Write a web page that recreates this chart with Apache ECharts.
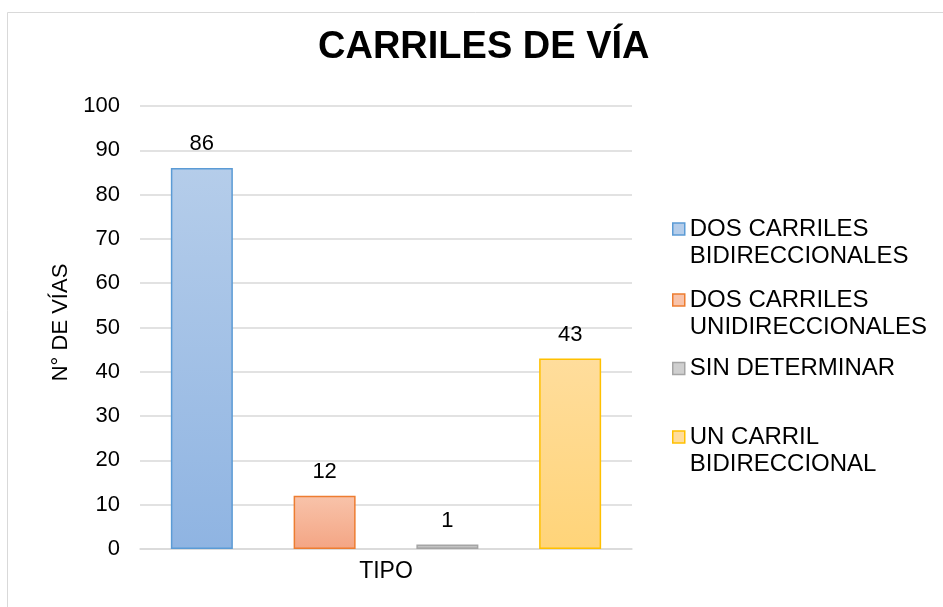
<!DOCTYPE html>
<html>
<head>
<meta charset="utf-8">
<script src="https://cdn.jsdelivr.net/npm/echarts@6/dist/echarts.min.js"></script>
<style>
  html, body { margin: 0; padding: 0; background: #fff; }
  #chart { width: 943px; height: 607px; }
</style>
</head>
<body>
<div id="chart"></div>
<script>
// datos del gráfico
var categories = ['TIPO']
var seriesNames = [
  'DOS CARRILES\nBIDIRECCIONALES',
  'DOS CARRILES\nUNIDIRECCIONALES',
  'SIN DETERMINAR',
  'UN CARRIL\nBIDIRECCIONAL'
]
var seriesValues = [86, 12, 1, 43]
var yTicks = [0, 100, 10] // min, max, intervalo

// colores: [arriba, abajo, borde]
var palette = [
  ['#b5cdea', '#8fb4e2', '#5b9bd5'],
  ['#f8c3aa', '#f4a584', '#ed7d31'],
  ['#cfcfcf', '#b4b4b4', '#a5a5a5'],
  ['#ffdd9c', '#ffd479', '#ffc000']
]
// posición de cada leyenda (una por serie)
var legendTops = [188.5, 259.5, 355, 396.5]

var chart = echarts.init(document.getElementById('chart'))

var series = seriesNames.map(function(name, i) {
  return {
    name: name,
    type: 'bar',
    data: [seriesValues[i]],
    barWidth: 62,
    barGap: '98%',
    itemStyle: {
      color: new echarts.graphic.LinearGradient(0, 0, 0, 1, [
        { offset: 0, color: palette[i][0] },
        { offset: 1, color: palette[i][1] }
      ]),
      borderColor: palette[i][2],
      borderWidth: 1.5
    },
    label: {
      show: true,
      position: 'top',
      distance: 13,
      color: '#000',
      fontFamily: 'Liberation Sans',
      fontSize: 22
    },
    emphasis: { disabled: true }
  }
})

var legends = seriesNames.map(function(name, i) {
  var twoLines = name.indexOf('\n') >= 0
  return {
    data: [name],
    orient: 'vertical',
    left: 672,
    top: legendTops[i],
    padding: 0,
    itemWidth: 12,
    itemHeight: 12,
    icon: 'rect',
    selectedMode: false,
    // línea vacía delante para que el icono quede junto a la primera línea
    formatter: function(n) { return twoLines ? '\n' + n : n },
    itemStyle: {
      color: palette[i][0],
      borderColor: palette[i][2],
      borderWidth: 1.5
    },
    textStyle: {
      color: '#000',
      fontFamily: 'Liberation Sans',
      fontSize: 24,
      lineHeight: 27
    }
  }
})

chart.setOption({
  animation: false,
  backgroundColor: '#fff',
  title: {
    text: 'CARRILES DE VÍA',
    left: 313,
    top: 24,
    textStyle: {
      color: '#000',
      fontFamily: 'Liberation Sans',
      fontWeight: 'bold',
      fontSize: 38
    }
  },
  graphic: [
    {
      type: 'rect',
      left: 5,
      top: 10,
      shape: { width: 960, height: 620 },
      style: { fill: 'none', stroke: '#d9d9d9', lineWidth: 1 },
      silent: true
    }
  ],
  legend: legends,
  grid: {
    left: 140,
    right: 311,
    top: 106,
    bottom: 58,
    containLabel: false,
    outerBoundsMode: 'none'
  },
  xAxis: {
    type: 'category',
    data: categories,
    axisLine: { show: true, lineStyle: { color: '#d9d9d9', width: 1.5 } },
    axisTick: { show: false },
    axisLabel: {
      color: '#000',
      fontFamily: 'Liberation Sans',
      fontSize: 23,
      margin: 11
    }
  },
  yAxis: {
    type: 'value',
    min: yTicks[0],
    max: yTicks[1],
    interval: yTicks[2],
    name: 'N° DE VÍAS',
    nameLocation: 'middle',
    nameGap: 66,
    nameTextStyle: {
      color: '#000',
      fontFamily: 'Liberation Sans',
      fontSize: 22,
      padding: [0, 0, 0, 10]
    },
    axisLine: { show: false },
    axisTick: { show: false },
    splitLine: { lineStyle: { color: '#d9d9d9', width: 1.5 } },
    axisLabel: {
      color: '#000',
      fontFamily: 'Liberation Sans',
      fontSize: 22,
      margin: 20
    }
  },
  series: series
})
</script>
</body>
</html>
